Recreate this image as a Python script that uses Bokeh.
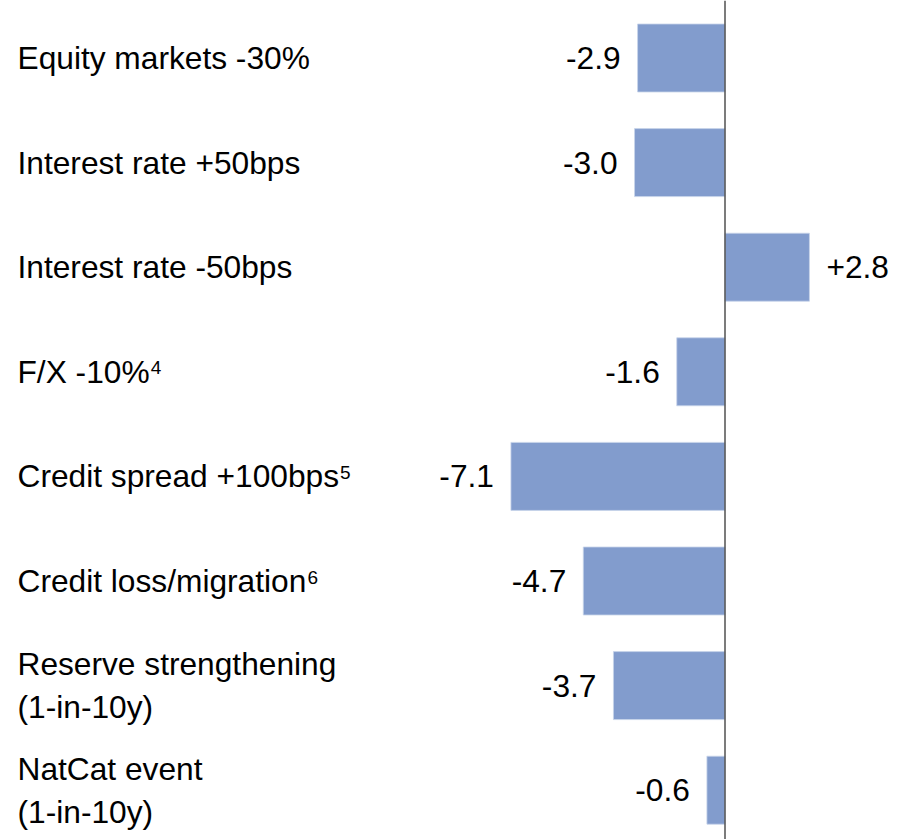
from bokeh.plotting import figure
from bokeh.models import ColumnDataSource, Range1d, Span
from bokeh.core.properties import value
from bokeh.embed import file_html
from bokeh.resources import INLINE

categories = [
    "Equity markets -30%",
    "Interest rate +50bps",
    "Interest rate -50bps",
    "F/X -10%",
    "Credit spread +100bps",
    "Credit loss/migration",
    "Reserve strengthening\n(1-in-10y)",
    "NatCat event\n(1-in-10y)",
]
footnotes = ["", "", "", "4", "5", "6", "", ""]
values = [-2.9, -3.0, 2.8, -1.6, -7.1, -4.7, -3.7, -0.6]
value_labels = ["-2.9", "-3.0", "+2.8", "-1.6", "-7.1", "-4.7", "-3.7", "-0.6"]

FONT = "Liberation Sans"
FS = 31.7
SUP_FS = 19
BAR_COLOR = "#829ccd"

# Arial / Liberation Sans advance widths (per 1000 em) for measuring labels
ADV = {" ": 278, "+": 584, "-": 333, "/": 278, "%": 889, "(": 333, ")": 333,
       "A": 667, "B": 667, "C": 722, "E": 667, "F": 611, "I": 278, "N": 722,
       "R": 722, "X": 667,
       "a": 556, "b": 556, "c": 500, "d": 556, "e": 556, "g": 556, "h": 556,
       "i": 222, "k": 500, "l": 222, "m": 833, "n": 556, "o": 556, "p": 556,
       "q": 556, "r": 333, "s": 500, "t": 278, "u": 556, "v": 500, "y": 500}
for d in "0123456789":
    ADV[d] = 556


def text_width(s, size):
    last = s.split("\n")[-1]
    return sum(ADV.get(ch, 556) for ch in last) * size / 1000.0


idx = list(range(len(categories)))
src = ColumnDataSource(dict(
    y=idx,
    v=values,
    cat=categories,
    lab=value_labels,
    off=[17 if v > 0 else -17 for v in values],
    align=["left" if v > 0 else "right" for v in values],
))

sup_rows = [i for i, f in enumerate(footnotes) if f]
sup_src = ColumnDataSource(dict(
    y=[idx[i] for i in sup_rows],
    t=[footnotes[i] for i in sup_rows],
    xo=[text_width(categories[i], FS) + 1 for i in sup_rows],
))

W, H = 905, 839
PX_PER_UNIT = 30.15
ZERO_PX = 724.5
ROW_PX = 104.6
FIRST_ROW_PX = 57.5

x0 = -ZERO_PX / PX_PER_UNIT
x1 = (W - ZERO_PX) / PX_PER_UNIT
ytop = -FIRST_ROW_PX / ROW_PX
ybot = (H - FIRST_ROW_PX) / ROW_PX

p = figure(width=W, height=H, output_backend="svg", toolbar_location=None,
           x_range=Range1d(x0, x1), y_range=Range1d(ybot, ytop),
           min_border=0, min_border_left=0, min_border_right=0,
           min_border_top=0, min_border_bottom=0)
p.axis.visible = False
p.grid.visible = False
p.outline_line_color = None
p.background_fill_color = "white"
p.border_fill_color = "white"

p.hbar(y="y", left=0, right="v", height=0.65, source=src,
       fill_color=BAR_COLOR, line_color="#c8d4ea", line_width=0.8)

p.add_layout(Span(location=0, dimension="height", line_color="#505050", line_width=1.5))

LABEL_X = (17 - ZERO_PX) / PX_PER_UNIT
p.text(x=LABEL_X, y="y", text="cat", source=src, text_align="left",
       text_baseline="middle", text_font=value(FONT), text_font_size=f"{FS}px",
       text_color="black", text_line_height=1.19)

p.text(x=LABEL_X, y="y", text="t", source=sup_src, x_offset="xo", y_offset=-4,
       text_align="left", text_baseline="alphabetic", text_font=value(FONT),
       text_font_size=f"{SUP_FS}px", text_color="black")

p.text(x="v", y="y", text="lab", source=src, x_offset="off", text_align="align",
       text_baseline="middle", text_font=value(FONT), text_font_size=f"{FS}px",
       text_color="black")

open("out.html", "w").write(file_html(p, INLINE))
